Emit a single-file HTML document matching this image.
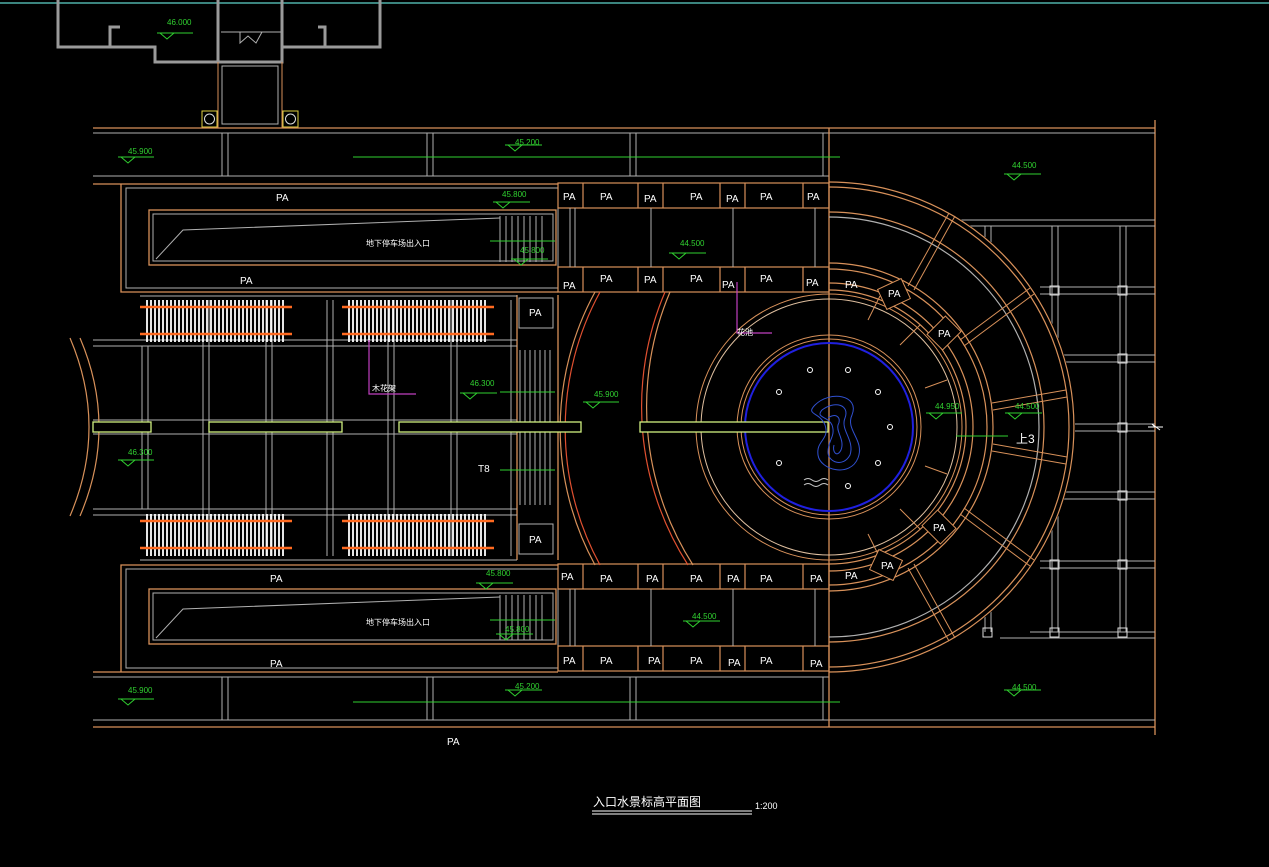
<!DOCTYPE html>
<html><head><meta charset="utf-8"><style>
html,body{margin:0;padding:0;background:#000;}
svg{display:block}
text{font-family:"Liberation Sans","Noto Sans CJK SC",sans-serif;}
</style></head><body>
<svg width="1269" height="867" viewBox="0 0 1269 867" xmlns="http://www.w3.org/2000/svg">
<rect width="1269" height="867" fill="#000"/>
<line x1="0" y1="3" x2="1269" y2="3" stroke="#4fb0a8" stroke-width="1.5"/>
<!-- building -->
<g stroke="#9a9a9a" fill="none" stroke-width="3">
<polyline points="58,0 58,47 110,47 110,27 120,27"/>
<polyline points="58,47 155,47 155,62 218,62"/>
<polyline points="218,0 218,62 282,62 282,0"/>
<polyline points="282,47 325,47 325,27 318,27"/>
<polyline points="282,47 380,47 380,0"/>
</g>
<g stroke="#b0b0b0" fill="none" stroke-width="1">
<line x1="221" y1="32" x2="281" y2="32"/>
<rect x="222" y="66" width="56" height="58"/>
<path d="M240,32 L240,43 L248,36 L256,43 L262,32"/>
</g>
<line x1="218" y1="62" x2="218" y2="128" stroke="#d8915a"/>
<line x1="282" y1="62" x2="282" y2="128" stroke="#d8915a"/>
<rect x="202" y="111" width="15" height="16" fill="none" stroke="#e0d040"/>
<circle cx="209.5" cy="119" r="5" fill="none" stroke="#ddd"/>
<rect x="283" y="111" width="15" height="16" fill="none" stroke="#e0d040"/>
<circle cx="290.5" cy="119" r="5" fill="none" stroke="#ddd"/>

<!-- main bands -->
<g stroke="#d8915a" fill="none" stroke-width="1.3">
<line x1="93" y1="128" x2="1155" y2="128"/>
<line x1="93" y1="184" x2="558" y2="184"/>
<line x1="93" y1="672" x2="558" y2="672"/>
<line x1="93" y1="727" x2="1155" y2="727"/>
<line x1="1155" y1="120" x2="1155" y2="735"/>
<polyline points="121,184 121,292 558,292"/>
<polyline points="121,672 121,565 558,565"/>
<rect x="149" y="210" width="407" height="55"/>
<rect x="149" y="589" width="407" height="55"/>
<line x1="517" y1="295" x2="517" y2="560"/>
<line x1="558" y1="295" x2="558" y2="560"/>
</g>
<g stroke="#b0b0b0" fill="none" stroke-width="1">
<line x1="93" y1="133" x2="1155" y2="133"/>
<line x1="93" y1="176" x2="829" y2="176"/>
<line x1="93" y1="677" x2="829" y2="677"/>
<line x1="93" y1="720" x2="1155" y2="720"/>
<line x1="823" y1="133" x2="823" y2="176"/><line x1="823" y1="677" x2="823" y2="720"/>
<line x1="222" y1="133" x2="222" y2="176"/><line x1="228" y1="133" x2="228" y2="176"/>
<line x1="427" y1="133" x2="427" y2="176"/><line x1="433" y1="133" x2="433" y2="176"/>
<line x1="630" y1="133" x2="630" y2="176"/><line x1="636" y1="133" x2="636" y2="176"/>
<line x1="222" y1="677" x2="222" y2="720"/><line x1="228" y1="677" x2="228" y2="720"/>
<line x1="427" y1="677" x2="427" y2="720"/><line x1="433" y1="677" x2="433" y2="720"/>
<line x1="630" y1="677" x2="630" y2="720"/><line x1="636" y1="677" x2="636" y2="720"/>
<rect x="126" y="188" width="432" height="100"/>
<rect x="126" y="569" width="432" height="99"/>
<rect x="153" y="214" width="400" height="47"/>
<rect x="153" y="593" width="400" height="47"/>
<polyline points="156,259 183,230 500,218"/>
<polyline points="156,638 183,609 500,597"/>
<!-- middle grid -->
<line x1="93" y1="340" x2="517" y2="340"/><line x1="93" y1="346" x2="517" y2="346"/>
<line x1="93" y1="420" x2="517" y2="420"/><line x1="93" y1="434" x2="517" y2="434"/>
<line x1="93" y1="509" x2="517" y2="509"/><line x1="93" y1="515" x2="517" y2="515"/>
<line x1="140" y1="296" x2="517" y2="296"/><line x1="140" y1="560" x2="517" y2="560"/>
<line x1="142" y1="346" x2="142" y2="509"/><line x1="148" y1="346" x2="148" y2="509"/>
<line x1="203" y1="300" x2="203" y2="556"/><line x1="209" y1="300" x2="209" y2="556"/>
<line x1="266" y1="300" x2="266" y2="556"/><line x1="272" y1="300" x2="272" y2="556"/>
<line x1="327" y1="300" x2="327" y2="556"/><line x1="333" y1="300" x2="333" y2="556"/>
<line x1="388" y1="300" x2="388" y2="556"/><line x1="394" y1="300" x2="394" y2="556"/>
<line x1="451" y1="300" x2="451" y2="556"/><line x1="457" y1="300" x2="457" y2="556"/>
<line x1="511" y1="300" x2="511" y2="556"/>
<rect x="519" y="298" width="34" height="30"/>
<rect x="519" y="524" width="34" height="30"/>
<!-- right grid -->
<line x1="960" y1="220" x2="1155" y2="220"/><line x1="970" y1="226" x2="1155" y2="226"/>
<line x1="1030" y1="632" x2="1155" y2="632"/><line x1="1000" y1="638" x2="1155" y2="638"/>
<line x1="1040" y1="287" x2="1155" y2="287"/><line x1="1040" y1="294" x2="1155" y2="294"/>
<line x1="1060" y1="355" x2="1155" y2="355"/><line x1="1060" y1="362" x2="1155" y2="362"/>
<line x1="1075" y1="424" x2="1155" y2="424"/><line x1="1075" y1="431" x2="1155" y2="431"/>
<line x1="1060" y1="492" x2="1155" y2="492"/><line x1="1060" y1="499" x2="1155" y2="499"/>
<line x1="1040" y1="561" x2="1155" y2="561"/><line x1="1040" y1="568" x2="1155" y2="568"/>
<line x1="985" y1="226" x2="985" y2="632"/><line x1="991" y1="226" x2="991" y2="632"/>
<line x1="1052" y1="226" x2="1052" y2="632"/><line x1="1058" y1="226" x2="1058" y2="632"/>
<line x1="1120" y1="226" x2="1120" y2="632"/><line x1="1126" y1="226" x2="1126" y2="632"/>
</g>
<g fill="none" stroke="#ddd">
<rect x="1050" y="286" width="9" height="9"/><rect x="1118" y="286" width="9" height="9"/>
<rect x="1118" y="354" width="9" height="9"/><rect x="1118" y="423" width="9" height="9"/>
<rect x="1118" y="491" width="9" height="9"/><rect x="1050" y="560" width="9" height="9"/>
<rect x="1118" y="560" width="9" height="9"/><rect x="983" y="628" width="9" height="9"/>
<rect x="1050" y="628" width="9" height="9"/><rect x="1118" y="628" width="9" height="9"/>
</g>
<!-- mask ring area -->
<path d="M829,181 A246,246 0 0 1 829,673 Z" fill="#000"/>
<line x1="829" y1="128" x2="829" y2="727" stroke="#d8915a" stroke-width="1.3"/>
<!-- PA rows -->
<g stroke="#d8915a" fill="none" stroke-width="1.2">
<rect x="558" y="183" width="271" height="25"/><rect x="558" y="267" width="271" height="25"/>
<rect x="558" y="564" width="271" height="25"/><rect x="558" y="646" width="271" height="25"/>
<line x1="583" y1="183" x2="583" y2="208"/><line x1="638" y1="183" x2="638" y2="208"/><line x1="663" y1="183" x2="663" y2="208"/><line x1="720" y1="183" x2="720" y2="208"/><line x1="745" y1="183" x2="745" y2="208"/><line x1="803" y1="183" x2="803" y2="208"/>
<line x1="583" y1="267" x2="583" y2="292"/><line x1="638" y1="267" x2="638" y2="292"/><line x1="663" y1="267" x2="663" y2="292"/><line x1="720" y1="267" x2="720" y2="292"/><line x1="745" y1="267" x2="745" y2="292"/><line x1="803" y1="267" x2="803" y2="292"/>
<line x1="583" y1="564" x2="583" y2="589"/><line x1="638" y1="564" x2="638" y2="589"/><line x1="663" y1="564" x2="663" y2="589"/><line x1="720" y1="564" x2="720" y2="589"/><line x1="745" y1="564" x2="745" y2="589"/><line x1="803" y1="564" x2="803" y2="589"/>
<line x1="583" y1="646" x2="583" y2="671"/><line x1="638" y1="646" x2="638" y2="671"/><line x1="663" y1="646" x2="663" y2="671"/><line x1="720" y1="646" x2="720" y2="671"/><line x1="745" y1="646" x2="745" y2="671"/><line x1="803" y1="646" x2="803" y2="671"/>
</g>
<g stroke="#b0b0b0" fill="none">
<line x1="570" y1="208" x2="570" y2="267"/><line x1="575" y1="208" x2="575" y2="267"/>
<line x1="651" y1="208" x2="651" y2="267"/><line x1="733" y1="208" x2="733" y2="267"/>
<line x1="815" y1="208" x2="815" y2="267"/>
<line x1="570" y1="589" x2="570" y2="646"/><line x1="575" y1="589" x2="575" y2="646"/>
<line x1="651" y1="589" x2="651" y2="646"/><line x1="733" y1="589" x2="733" y2="646"/>
<line x1="815" y1="589" x2="815" y2="646"/>
</g>
<!-- stairs -->
<g stroke="#b0b0b0" stroke-width="1">
<line x1="520" y1="350" x2="520" y2="505"/><line x1="525" y1="350" x2="525" y2="505"/><line x1="530" y1="350" x2="530" y2="505"/><line x1="535" y1="350" x2="535" y2="505"/><line x1="540" y1="350" x2="540" y2="505"/><line x1="545" y1="350" x2="545" y2="505"/><line x1="550" y1="350" x2="550" y2="505"/>
<line x1="500" y1="216" x2="500" y2="262"/><line x1="506" y1="216" x2="506" y2="262"/><line x1="512" y1="216" x2="512" y2="262"/><line x1="518" y1="216" x2="518" y2="262"/><line x1="524" y1="216" x2="524" y2="262"/><line x1="530" y1="216" x2="530" y2="262"/><line x1="536" y1="216" x2="536" y2="262"/><line x1="542" y1="216" x2="542" y2="262"/>
<line x1="500" y1="595" x2="500" y2="640"/><line x1="506" y1="595" x2="506" y2="640"/><line x1="512" y1="595" x2="512" y2="640"/><line x1="518" y1="595" x2="518" y2="640"/><line x1="524" y1="595" x2="524" y2="640"/><line x1="530" y1="595" x2="530" y2="640"/><line x1="536" y1="595" x2="536" y2="640"/><line x1="542" y1="595" x2="542" y2="640"/>
</g>
<!-- arcs -->
<g fill="none" stroke-width="1.2">
<path d="M595,292 A285,285 0 0 0 595,565" stroke="#d8915a"/>
<path d="M600,292 A285,285 0 0 0 600,565" stroke="#e05030"/>
<path d="M665,292 A293,293 0 0 0 688,565" stroke="#e05030"/>
<path d="M670,292 A293,293 0 0 0 693,565" stroke="#d8915a"/>
<path d="M70,338 Q108,427 70,516" stroke="#d8915a"/>
<path d="M80,338 Q118,427 80,516" stroke="#d8915a"/>
<path d="M829,182 A245,245 0 0 1 829,672" stroke="#d8915a"/>
<path d="M829,187 A240,240 0 0 1 829,667" stroke="#d8915a"/>
<path d="M829,212 A215,215 0 0 1 829,642" stroke="#d8915a"/>
<path d="M829,217 A210,210 0 0 1 829,637" stroke="#b0b0b0"/>
<path d="M829,263 A164,164 0 0 1 829,591" stroke="#d8915a"/>
<path d="M829,269 A158,158 0 0 1 829,585" stroke="#d8915a"/>
<path d="M829,283 A144,144 0 0 1 829,571" stroke="#d8915a"/>
<path d="M829,290 A137,137 0 0 1 829,564" stroke="#d8915a"/>
</g>
<circle cx="829" cy="427" r="133" fill="none" stroke="#d8915a"/>
<circle cx="829" cy="427" r="128" fill="none" stroke="#e0c0a0"/>
<circle cx="829" cy="427" r="92" fill="none" stroke="#d8915a"/>
<circle cx="829" cy="427" r="88" fill="none" stroke="#d8915a"/>
<circle cx="829" cy="427" r="84" fill="none" stroke="#2020e0" stroke-width="2"/>
<!-- radial spokes -->
<g stroke="#d8915a" stroke-width="1">
<line x1="949" y1="213" x2="908" y2="286"/><line x1="955" y1="216" x2="914" y2="290"/>
<line x1="1030" y1="288" x2="960" y2="340"/><line x1="1034" y1="294" x2="964" y2="346"/>
<line x1="1066" y1="390" x2="992" y2="403"/><line x1="1067" y1="397" x2="993" y2="410"/>
<line x1="1066" y1="464" x2="992" y2="451"/><line x1="1067" y1="457" x2="993" y2="444"/>
<line x1="1030" y1="566" x2="960" y2="514"/><line x1="1034" y1="560" x2="964" y2="508"/>
<line x1="949" y1="641" x2="908" y2="568"/><line x1="955" y1="638" x2="914" y2="564"/>
<line x1="880" y1="296" x2="868" y2="320"/><line x1="920" y1="325" x2="900" y2="345"/>
<line x1="947" y1="380" x2="925" y2="388"/><line x1="947" y1="474" x2="925" y2="466"/>
<line x1="920" y1="529" x2="900" y2="509"/><line x1="880" y1="558" x2="868" y2="534"/>
</g>
<g fill="#000" stroke="#d8915a">
<rect x="881" y="283" width="26" height="22" transform="rotate(-25 894 294)"/>
<rect x="931" y="322" width="26" height="22" transform="rotate(-45 944 333)"/>
<rect x="926" y="516" width="26" height="22" transform="rotate(45 939 527)"/>
<rect x="873" y="554" width="26" height="22" transform="rotate(25 886 565)"/>
</g>
<!-- pergolas -->
<g>
<g stroke="#fff" stroke-width="1.8">
<path d="M147,300V342M151,300V342M155,300V342M159,300V342M163,300V342M167,300V342M171,300V342M175,300V342M179,300V342M183,300V342M187,300V342M191,300V342M195,300V342M199,300V342M203,300V342M207,300V342M211,300V342M215,300V342M219,300V342M223,300V342M227,300V342M231,300V342M235,300V342M239,300V342M243,300V342M247,300V342M251,300V342M255,300V342M259,300V342M263,300V342M267,300V342M271,300V342M275,300V342M279,300V342M283,300V342"/>
<path d="M349,300V342M353,300V342M357,300V342M361,300V342M365,300V342M369,300V342M373,300V342M377,300V342M381,300V342M385,300V342M389,300V342M393,300V342M397,300V342M401,300V342M405,300V342M409,300V342M413,300V342M417,300V342M421,300V342M425,300V342M429,300V342M433,300V342M437,300V342M441,300V342M445,300V342M449,300V342M453,300V342M457,300V342M461,300V342M465,300V342M469,300V342M473,300V342M477,300V342M481,300V342M485,300V342"/>
<path d="M147,514V556M151,514V556M155,514V556M159,514V556M163,514V556M167,514V556M171,514V556M175,514V556M179,514V556M183,514V556M187,514V556M191,514V556M195,514V556M199,514V556M203,514V556M207,514V556M211,514V556M215,514V556M219,514V556M223,514V556M227,514V556M231,514V556M235,514V556M239,514V556M243,514V556M247,514V556M251,514V556M255,514V556M259,514V556M263,514V556M267,514V556M271,514V556M275,514V556M279,514V556M283,514V556"/>
<path d="M349,514V556M353,514V556M357,514V556M361,514V556M365,514V556M369,514V556M373,514V556M377,514V556M381,514V556M385,514V556M389,514V556M393,514V556M397,514V556M401,514V556M405,514V556M409,514V556M413,514V556M417,514V556M421,514V556M425,514V556M429,514V556M433,514V556M437,514V556M441,514V556M445,514V556M449,514V556M453,514V556M457,514V556M461,514V556M465,514V556M469,514V556M473,514V556M477,514V556M481,514V556M485,514V556"/>
</g>
<g stroke="#ff6a20" stroke-width="2.5">
<line x1="140" y1="307" x2="292" y2="307"/><line x1="140" y1="334" x2="292" y2="334"/>
<line x1="342" y1="307" x2="494" y2="307"/><line x1="342" y1="334" x2="494" y2="334"/>
<line x1="140" y1="521" x2="292" y2="521"/><line x1="140" y1="548" x2="292" y2="548"/>
<line x1="342" y1="521" x2="494" y2="521"/><line x1="342" y1="548" x2="494" y2="548"/>
</g>
</g>
<!-- center green bars -->
<g fill="#000" stroke="#d0f080" stroke-width="1.3">
<rect x="93" y="422" width="58" height="10"/>
<rect x="209" y="422" width="133" height="10"/>
<rect x="399" y="422" width="182" height="10"/>
<rect x="640" y="422" width="188" height="10"/>
</g>
<!-- fountain -->
<g fill="none" stroke="#3050d0" stroke-width="1">
<path d="M815,405 C830,390 860,395 852,415 C845,430 865,440 858,458 C850,478 820,470 818,455 C816,440 830,440 825,425 C820,412 805,415 815,405Z"/>
<path d="M822,410 C835,400 850,405 845,418 C840,430 855,440 850,455 C843,468 828,462 828,452 C828,440 836,436 832,425 C828,416 815,418 822,410Z"/>
<path d="M828,418 C836,412 842,418 838,425 C836,432 845,440 841,450 C837,458 832,452 834,445"/>
</g>
<g fill="none" stroke="#fff" stroke-width="1">
<circle cx="810" cy="370" r="2.5"/><circle cx="848" cy="370" r="2.5"/>
<circle cx="779" cy="392" r="2.5"/><circle cx="878" cy="392" r="2.5"/>
<circle cx="890" cy="427" r="2.5"/>
<circle cx="779" cy="463" r="2.5"/><circle cx="878" cy="463" r="2.5"/>
<circle cx="848" cy="486" r="2.5"/>
<path d="M804,480 q4,-3 8,0 t8,0 t8,0 M804,485 q4,-3 8,0 t8,0 t8,0" stroke="#ccc"/>
<path d="M1148,427 L1155,427 L1152,424 L1160,430 L1156,427 L1163,427"/>
</g>
<!-- magenta leaders -->
<g stroke="#c040c0" fill="none" stroke-width="1.2">
<polyline points="369,340 369,394 416,394"/>
<polyline points="737,282 737,333 772,333"/>
</g>
<!-- green elevation marks -->
<g stroke="#30d030" fill="none" stroke-width="1">
<path d="M118,157 h36 M121,157 l7,6 l7,-6"/>
<path d="M157,33 h36 M160,33 l7,6 l7,-6"/>
<path d="M505,145 h37 M508,145 l7,6 l7,-6"/>
<line x1="353" y1="157" x2="840" y2="157"/>
<path d="M493,202 h37 M496,202 l7,6 l7,-6"/>
<path d="M511,259 h37 M514,259 l7,6 l7,-6"/>
<line x1="490" y1="241" x2="555" y2="241"/>
<path d="M669,253 h37 M672,253 l7,6 l7,-6"/>
<path d="M460,393 h37 M463,393 l7,6 l7,-6"/>
<line x1="500" y1="392" x2="555" y2="392"/>
<line x1="500" y1="470" x2="555" y2="470"/>
<path d="M583,402 h36 M586,402 l7,6 l7,-6"/>
<path d="M1004,174 h37 M1007,174 l7,6 l7,-6"/>
<path d="M926,413 h36 M929,413 l7,6 l7,-6"/>
<path d="M1005,413 h37 M1008,413 l7,6 l7,-6"/>
<line x1="956" y1="436" x2="1008" y2="436"/>
<path d="M118,460 h36 M121,460 l7,6 l7,-6"/>
<path d="M476,583 h37 M479,583 l7,6 l7,-6"/>
<path d="M496,634 h37 M499,634 l7,6 l7,-6"/>
<line x1="490" y1="620" x2="555" y2="620"/>
<path d="M683,621 h37 M686,621 l7,6 l7,-6"/>
<path d="M118,699 h36 M121,699 l7,6 l7,-6"/>
<path d="M505,690 h37 M508,690 l7,6 l7,-6"/>
<line x1="353" y1="702" x2="840" y2="702"/>
<path d="M1004,690 h37 M1007,690 l7,6 l7,-6"/>
</g>
<g fill="#30d030" font-size="8">
<text x="128" y="154">45.900</text>
<text x="167" y="25">46.000</text>
<text x="515" y="145">45.200</text>
<text x="502" y="197">45.800</text>
<text x="520" y="253">45.800</text>
<text x="680" y="246">44.500</text>
<text x="470" y="386">46.300</text>
<text x="594" y="397">45.900</text>
<text x="935" y="409">44.950</text>
<text x="1015" y="409">44.500</text>
<text x="1012" y="168">44.500</text>
<text x="128" y="455">46.300</text>
<text x="486" y="576">45.800</text>
<text x="505" y="632">45.800</text>
<text x="692" y="619">44.500</text>
<text x="128" y="693">45.900</text>
<text x="515" y="689">45.200</text>
<text x="1012" y="690">44.500</text>
</g>
<!-- white labels -->
<g fill="#fff" font-size="10">
<text x="276" y="201">PA</text><text x="240" y="284">PA</text>
<text x="270" y="582">PA</text><text x="270" y="667">PA</text>
<text x="447" y="745">PA</text>
<text x="529" y="316">PA</text><text x="529" y="543">PA</text>
<text x="563" y="200">PA</text><text x="600" y="200">PA</text><text x="644" y="202">PA</text><text x="690" y="200">PA</text><text x="726" y="202">PA</text><text x="760" y="200">PA</text><text x="807" y="200">PA</text>
<text x="563" y="289">PA</text><text x="600" y="282">PA</text><text x="644" y="283">PA</text><text x="690" y="282">PA</text><text x="722" y="288">PA</text><text x="760" y="282">PA</text><text x="806" y="286">PA</text>
<text x="845" y="288">PA</text><text x="888" y="297">PA</text><text x="938" y="337">PA</text><text x="933" y="531">PA</text><text x="881" y="569">PA</text><text x="845" y="579">PA</text>
<text x="561" y="580">PA</text><text x="600" y="582">PA</text><text x="646" y="582">PA</text><text x="690" y="582">PA</text><text x="727" y="582">PA</text><text x="760" y="582">PA</text><text x="810" y="582">PA</text>
<text x="563" y="664">PA</text><text x="600" y="664">PA</text><text x="648" y="664">PA</text><text x="690" y="664">PA</text><text x="728" y="666">PA</text><text x="760" y="664">PA</text><text x="810" y="667">PA</text>
<text x="478" y="472" font-size="10">T8</text>
<text x="1016" y="443" font-size="12">上3</text>
<text x="366" y="246" font-size="8">地下停车场出入口</text>
<text x="366" y="625" font-size="8">地下停车场出入口</text>
<text x="372" y="391" font-size="8">木花架</text>
<text x="737" y="335" font-size="8">花池</text>
<text x="593" y="806" font-size="12">入口水景标高平面图</text>
<text x="755" y="809" font-size="9">1:200</text>
</g>
<line x1="592" y1="811" x2="752" y2="811" stroke="#fff"/>
<line x1="592" y1="814" x2="752" y2="814" stroke="#fff"/>
</svg>
</body></html>
